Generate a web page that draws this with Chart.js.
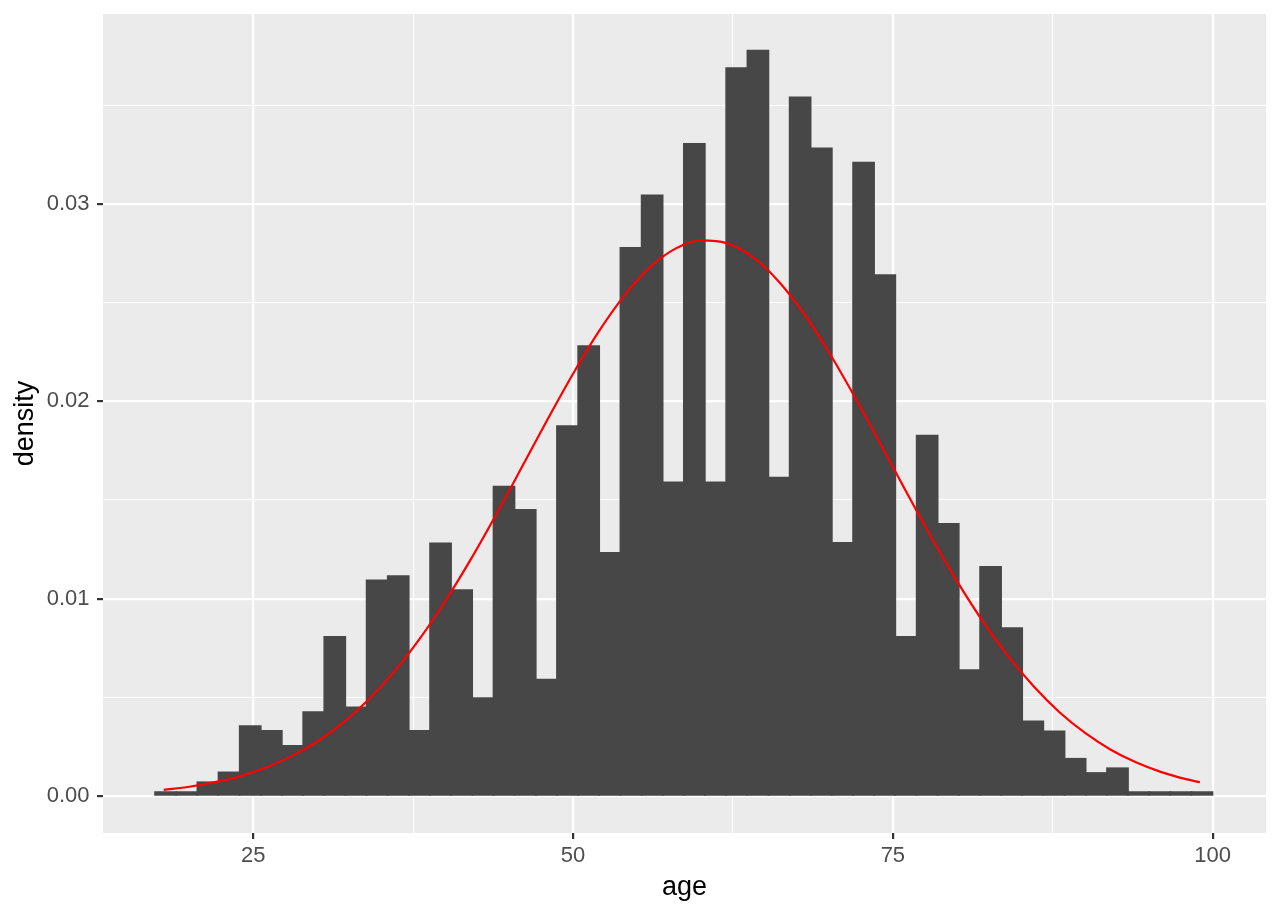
<!DOCTYPE html>
<html>
<head>
<meta charset="utf-8">
<script src="https://cdn.jsdelivr.net/npm/chart.js@4/dist/chart.umd.min.js"></script>
<style>
  html, body { margin: 0; padding: 0; background: #ffffff; }
  #wrap { width: 1280px; height: 914px; position: relative; }
</style>
</head>
<body>
<div id="wrap"><canvas id="hist"></canvas></div>
<script>
// histogram bins (centre of each bin, age) and their density
const binCenters = [
  18.14, 19.80, 21.45, 23.10, 24.76, 26.41, 28.06, 29.72, 31.37, 33.03,
  34.68, 36.33, 37.99, 39.64, 41.29, 42.95, 44.60, 46.26, 47.91, 49.56,
  51.22, 52.87, 54.52, 56.18, 57.83, 59.48, 61.14, 62.79, 64.45, 66.10,
  67.75, 69.41, 71.06, 72.71, 74.37, 76.02, 77.68, 79.33, 80.98, 82.64,
  84.29, 85.94, 87.60, 89.25, 90.91, 92.56, 94.21, 95.87, 97.52, 99.17
];
const binDensity = [
  0.0002, 0.0002, 0.0007, 0.0012, 0.00354, 0.00331, 0.00255, 0.00426, 0.00807, 0.0045,
  0.01093, 0.01115, 0.00331, 0.01281, 0.01044, 0.00497, 0.01568, 0.0145, 0.0059, 0.01875,
  0.0228, 0.01232, 0.02778, 0.03044, 0.0159, 0.03305, 0.0159, 0.03689, 0.03778, 0.01614,
  0.03541, 0.03283, 0.01283, 0.0321, 0.0264, 0.00807, 0.01827, 0.01379, 0.00638, 0.01161,
  0.00851, 0.00379, 0.00328, 0.00189, 0.00117, 0.00141, 0.0002, 0.0002, 0.0002, 0.0002
];

// red curve
const curveAge = [
  18, 20, 22, 24, 26, 28, 30, 32, 34, 36, 38, 40, 42, 44, 46, 48, 50, 52, 54, 56, 58,
  60, 62, 64, 66, 68, 70, 72, 74, 76, 78, 80, 82, 84, 86, 88, 90, 92, 94, 96, 98, 99
];
const curveDensity = [
  0.00031, 0.00047, 0.0007, 0.00101, 0.00144, 0.00202, 0.00276, 0.00371, 0.00488, 0.00629, 0.00796,
  0.00987, 0.01199, 0.01428, 0.01667, 0.01908, 0.0214, 0.02353, 0.02536, 0.02679, 0.02774,
  0.02816, 0.02802, 0.02733, 0.02613, 0.02449, 0.02249, 0.02025, 0.01788, 0.01547, 0.01311,
  0.0109, 0.00888, 0.0071, 0.00556, 0.00426, 0.00321, 0.00236, 0.00171, 0.00121, 0.00084, 0.0007
];

const xTicks = [25, 37.5, 50, 62.5, 75, 87.5, 100];
const yTicks = [0, 0.005, 0.01, 0.015, 0.02, 0.025, 0.03, 0.035];

const isMajorX = v => Math.abs(v % 25) < 1e-9;
const isMajorY = v => Math.abs(v / 0.01 - Math.round(v / 0.01)) < 1e-6;
const tickVal = c => (c && c.tick) ? c.tick.value : null;

const panelBg = {
  id: "panelBg",
  beforeDraw(chart) {
    const { ctx, chartArea: a } = chart;
    ctx.save();
    ctx.fillStyle = "#EBEBEB";
    ctx.fillRect(a.left, a.top, a.right - a.left, a.bottom - a.top);
    ctx.restore();
  }
};

new Chart(document.getElementById("hist"), {
  type: "bar",
  data: {
    datasets: [
      {
        type: "line",
        data: curveAge.map((x, i) => ({ x, y: curveDensity[i] })),
        borderColor: "#FF0000",
        borderWidth: 2.2,
        pointRadius: 0,
        cubicInterpolationMode: "monotone",
        fill: false,
        order: 1
      },
      {
        data: binCenters.map((x, i) => ({ x, y: binDensity[i] })),
        backgroundColor: "#474747",
        borderWidth: 0,
        barPercentage: 1,
        categoryPercentage: 1,
        inflateAmount: 0.8,
        order: 2
      }
    ]
  },
  options: {
    responsive: true,
    maintainAspectRatio: false,
    animation: false,
    layout: { padding: { top: 14, right: 14, left: 0, bottom: 0 } },
    plugins: { legend: { display: false }, tooltip: { enabled: false } },
    scales: {
      x: {
        type: "linear",
        bounds: "data",
        offset: false,
        min: 13.25,
        max: 104.17,
        afterBuildTicks: s => { s.ticks = xTicks.map(v => ({ value: v })); },
        afterFit: s => { s.height = 81; s.paddingLeft = 0; s.paddingRight = 0; },
        border: { display: false },
        grid: {
          offset: false,
          color: "#FFFFFF",
          lineWidth: c => { const v = tickVal(c); return v === null || isMajorX(v) ? 2.2 : 1.1; },
          tickColor: c => { const v = tickVal(c); return v !== null && isMajorX(v) ? "#333333" : "rgba(0,0,0,0)"; },
          tickWidth: 2.2,
          tickLength: 6
        },
        ticks: {
          autoSkip: false,
          maxRotation: 0,
          padding: 4,
          color: "#4D4D4D",
          font: { family: "Liberation Sans", size: 22 },
          callback: v => isMajorX(v) ? String(v) : ""
        },
        title: {
          display: true,
          text: "age",
          color: "#000000",
          font: { family: "Liberation Sans", size: 27 },
          padding: { top: 0, bottom: 10 }
        }
      },
      y: {
        type: "linear",
        bounds: "data",
        min: -0.001875,
        max: 0.03963,
        afterBuildTicks: s => { s.ticks = yTicks.map(v => ({ value: v })); },
        afterFit: s => { s.width = 103; s.paddingTop = 0; s.paddingBottom = 0; },
        border: { display: false },
        grid: {
          color: "#FFFFFF",
          lineWidth: c => { const v = tickVal(c); return v === null || isMajorY(v) ? 2.2 : 1.1; },
          tickColor: c => { const v = tickVal(c); return v !== null && isMajorY(v) ? "#333333" : "rgba(0,0,0,0)"; },
          tickWidth: 2.2,
          tickLength: 6
        },
        ticks: {
          autoSkip: false,
          padding: 7.5,
          color: "#4D4D4D",
          font: { family: "Liberation Sans", size: 22 },
          callback: v => isMajorY(v) ? v.toFixed(2) : ""
        },
        title: {
          display: true,
          text: "density",
          color: "#000000",
          font: { family: "Liberation Sans", size: 27 },
          padding: { top: 9, bottom: 0 }
        }
      }
    }
  },
  plugins: [panelBg]
});
</script>
</body>
</html>
